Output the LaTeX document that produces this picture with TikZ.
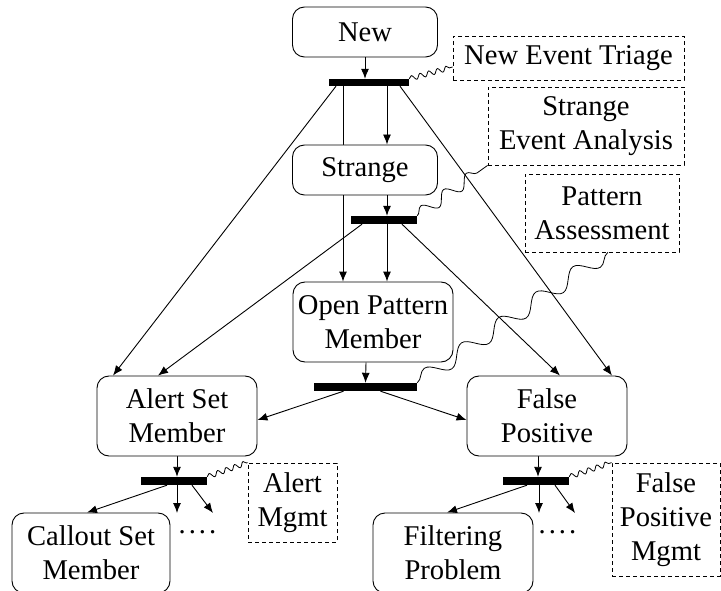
\documentclass[tikz,border=0pt]{standalone}
\usepackage{fontspec}
\setmainfont{Liberation Serif}
\usetikzlibrary{arrows.meta,calc,decorations.pathmorphing,backgrounds}

\tikzset{
	stat/.style={shape=rectangle,rounded corners=12pt,draw=black,fill=white,line width=0.9pt,align=center,inner sep=2pt},
	trans/.style={shape=rectangle,fill=black,inner sep=0pt,minimum height=8pt},
	activity/.style={shape=rectangle,draw=black,line width=0.8pt,dash pattern=on 4pt off 3pt,align=center,inner sep=0pt},
	flow/.style={-{Latex[length=10pt,width=8pt]},line width=0.9pt},
	wave/.style={line width=0.8pt,decorate,decoration={snake,segment length=9pt,amplitude=2.5pt}}
}

\begin{document}
\begin{tikzpicture}[x=1pt,y=-1pt,font=\fontsize{28.6}{34}\selectfont]
	\useasboundingbox (0,0) rectangle (721,591);

	% states
	\node[stat,minimum width=145pt,minimum height=50pt] (new)      at (365, 32)   {New};
	\node[stat,minimum width=145pt,minimum height=50pt] (strange)  at (365, 170)  {Strange};
	\node[stat,minimum width=160pt,minimum height=80pt] (opm)      at (373, 322)  {Open Pattern\\Member};
	\node[stat,minimum width=160pt,minimum height=80pt] (alert)    at (177, 416)  {Alert Set\\Member};
	\node[stat,minimum width=160pt,minimum height=80pt] (falsepos) at (547, 416)  {False\\Positive};
	\node[stat,minimum width=158pt,minimum height=80pt] (callout)  at (91, 553)   {Callout Set\\Member};
	\node[stat,minimum width=160pt,minimum height=80pt] (filter)   at (453, 553)  {Filtering\\Problem};

	% transitions
	\node[trans,minimum width=80pt,minimum height=7pt] (t1) at (369, 82.5) {};
	\node[trans,minimum width=66pt] (t2) at (384, 220)   {};
	\node[trans,minimum width=103pt] (t3) at (365.5, 387) {};
	\node[trans,minimum width=66pt] (t4) at (174, 481)   {};
	\node[trans,minimum width=66pt] (t5) at (536, 481)   {};

	% activities
	\node[activity,minimum width=231pt,minimum height=44pt]  (net)    at (568.5, 58)   {New Event Triage};
	\node[activity,minimum width=196pt,minimum height=78pt]  (sea)    at (586, 126)    {Strange\\Event Analysis};
	\node[activity,minimum width=154pt,minimum height=78pt]  (pa)     at (602, 213)    {Pattern\\Assessment};
	\node[activity,minimum width=89pt,minimum height=79pt]   (amgmt)  at (292.5, 502.5) {Alert\\Mgmt};
	\node[activity,minimum width=108pt,minimum height=113pt] (fpmgmt) at (666, 519.5)  {False\\Positive\\Mgmt};

	\node[inner sep=0pt] (dots1) at (197.5, 532) {.\hspace{3pt}.\hspace{3pt}.\hspace{3pt}.};
	\node[inner sep=0pt] (dots2) at (557.5, 532) {.\hspace{3pt}.\hspace{3pt}.\hspace{3pt}.};

	\coordinate (a1) at (177, 513);
	\coordinate (a2) at (213, 513);
	\coordinate (f1) at (539, 513);
	\coordinate (f2) at (575, 513);

	\begin{scope}[on background layer]
	\draw[flow] (new.south) -- (new.south |- t1.north);
	\draw[flow] ($(t1.south)+(18,0)$)  -- ($(strange.north)+(22,0)$);
	\draw[flow] ($(t1.south)+(-26,0)$) -- ($(opm.north)+(-30,0)$);
	\draw[flow] ($(t1.south)+(-33,0)$) -- ($(alert.north)+(-64,0)$);
	\draw[flow] ($(t1.south)+(31,0)$)  -- ($(falsepos.north)+(65,0)$);

	\draw[flow] ($(strange.south)+(22,0)$) -- ($(t2.north)+(3,0)$);
	\draw[flow] ($(t2.south)+(3,0)$)   -- ($(opm.north)+(14,0)$);
	\draw[flow] ($(t2.south)+(-22,0)$) -- ($(alert.north)+(-19,0)$);
	\draw[flow] ($(t2.south)+(18,0)$)  -- ($(falsepos.north)+(13,0)$);

	\draw[flow] ($(opm.south)+(-7,0)$) -- (t3.north);
	\draw[flow] ($(t3.south)+(-22,0)$) -- ($(alert.east)+(0,4)$);
	\draw[flow] ($(t3.south)+(15,0)$)  -- ($(falsepos.west)+(0,4)$);

	\draw[flow] (alert.south) -- (alert.south |- t4.north);
	\draw[flow] ($(t4.south)+(-7,0)$) -- ($(callout.north)+(-4,0)$);
	\draw[flow] ($(t4.south)+(3,0)$)  -- (a1);
	\draw[flow] ($(t4.south)+(18,0)$) -- (a2);

	\draw[flow] ($(falsepos.south)+(-9,0)$) -- ($(t5.north)+(2,0)$);
	\draw[flow] ($(t5.south)+(-9,0)$) -- ($(filter.north)+(-6,0)$);
	\draw[flow] ($(t5.south)+(3,0)$)  -- (f1);
	\draw[flow] ($(t5.south)+(19,0)$) -- (f2);
	\end{scope}

	% links to activities
	\draw[wave] (t1.north east) -- ($(net.west)+(0,9)$);
	\draw[wave,decoration={segment length=28pt,amplitude=6pt}] (t2.north east) -- (sea.south west);
	\draw[wave,decoration={segment length=45pt,amplitude=8pt}] (t3.north east) -- ($(pa.south)+(6,0)$);
	\draw[wave] (t4.north east) -- (amgmt.north west);
	\draw[wave] (t5.north east) -- (fpmgmt.north west);
\end{tikzpicture}
\end{document}
